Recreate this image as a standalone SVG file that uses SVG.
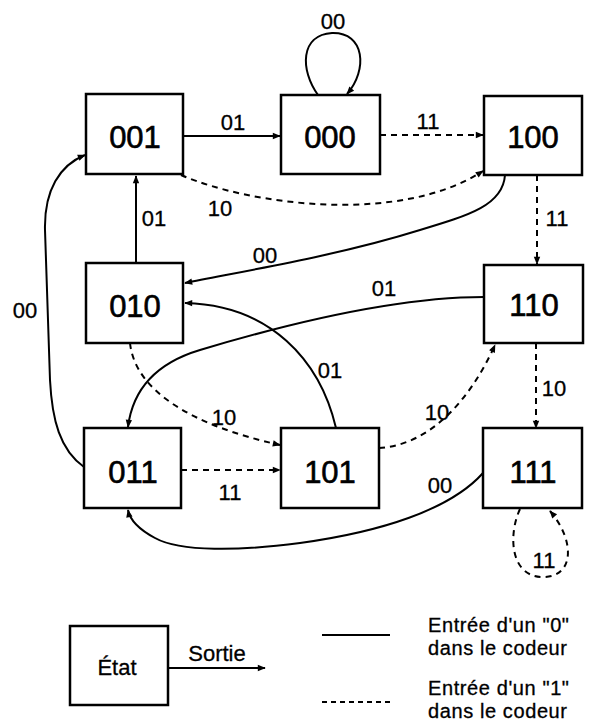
<svg xmlns="http://www.w3.org/2000/svg" width="591" height="723" viewBox="0 0 591 723">
<style>
.box{fill:#fff;stroke:#000;stroke-width:2.5}
.bl{font-family:"Liberation Sans",Arial,sans-serif;font-size:31px;text-anchor:middle;fill:#000;stroke:#000;stroke-width:0.6}
.el{font-family:"Liberation Sans",Arial,sans-serif;font-size:22px;text-anchor:middle;fill:#000;stroke:#000;stroke-width:0.3}
.lg{font-family:"Liberation Sans",Arial,sans-serif;font-size:20px;letter-spacing:0.6px;fill:#000;stroke:#000;stroke-width:0.3}
.s{fill:none;stroke:#000;stroke-width:2;marker-end:url(#ah)}
.d{fill:none;stroke:#000;stroke-width:2;stroke-dasharray:6 5;marker-end:url(#ah)}
</style>
<defs>
<marker id="ah" viewBox="0 0 10 10" refX="9" refY="5" markerWidth="9" markerHeight="8" orient="auto" markerUnits="userSpaceOnUse"><path d="M0,1 L10,5 L0,9 z" fill="#000"/></marker>
</defs>
<rect width="591" height="723" fill="#fff"/>
<g id="connectors">
<path class="s" d="M318,95 C300,70 300,35 332,33 C365,32 368,70 347,94"/>
<path class="s" d="M183,136 L280,136"/>
<path class="d" d="M380,135 L483,135"/>
<path class="d" d="M181,175 C250,205 400,225 483,171"/>
<path class="s" d="M136,263 L136,176"/>
<path class="s" d="M505,175 C503,205 470,215 420,230 C340,255 250,270 185,283"/>
<path class="d" d="M537,175 L537,264"/>
<path class="s" d="M484,297 C400,297 300,320 200,350 C150,365 132,395 128,427"/>
<path class="s" d="M336,428 C320,360 270,305 185,303"/>
<path class="d" d="M130,343 C135,390 190,425 280,445"/>
<path class="d" d="M379,448 C430,445 470,400 495,345"/>
<path class="d" d="M536,343 L536,428"/>
<path class="d" d="M181,470 L280,470"/>
<path class="s" d="M84,467 C60,450 52,420 50,380 L45,230 C44,190 60,165 85,155"/>
<path class="s" d="M483,473 C450,510 380,532 300,543 C240,551 180,552 155,538 C140,530 130,520 128,510"/>
<path class="d" d="M520,509 C508,535 510,577 543,577 C575,577 575,540 550,511"/>
</g>
<g id="edge-labels">
<text class="el" x="333" y="29">00</text>
<text class="el" x="233" y="130">01</text>
<text class="el" x="428" y="129">11</text>
<text class="el" x="220" y="216">10</text>
<text class="el" x="154" y="226">01</text>
<text class="el" x="557" y="226">11</text>
<text class="el" x="265" y="263">00</text>
<text class="el" x="384" y="296">01</text>
<text class="el" x="330" y="378">01</text>
<text class="el" x="224" y="425">10</text>
<text class="el" x="437" y="420">10</text>
<text class="el" x="554" y="396">10</text>
<text class="el" x="25" y="318">00</text>
<text class="el" x="230" y="500">11</text>
<text class="el" x="440" y="493">00</text>
<text class="el" x="544" y="568">11</text>
</g>
<g id="n001"><rect class="box" x="86" y="94" width="97" height="80"/><text class="bl" x="135" y="148">001</text></g>
<g id="n000"><rect class="box" x="281" y="95" width="99" height="79"/><text class="bl" x="330" y="148">000</text></g>
<g id="n100"><rect class="box" x="484" y="96" width="98" height="79"/><text class="bl" x="533" y="148">100</text></g>
<g id="n010"><rect class="box" x="86" y="263" width="97" height="80"/><text class="bl" x="135" y="317">010</text></g>
<g id="n110"><rect class="box" x="484" y="265" width="99" height="78"/><text class="bl" x="534" y="316">110</text></g>
<g id="n011"><rect class="box" x="84" y="428" width="97" height="80"/><text class="bl" x="133" y="483">011</text></g>
<g id="n101"><rect class="box" x="281" y="428" width="98" height="80"/><text class="bl" x="330" y="483">101</text></g>
<g id="n111"><rect class="box" x="483" y="428" width="99" height="80"/><text class="bl" x="533" y="483">111</text></g>
<g id="legend">
<rect class="box" x="70" y="626" width="98" height="79"/>
<text class="el" x="117" y="675">État</text>
<path class="s" d="M168,668 L265,668"/>
<text class="el" x="217" y="661">Sortie</text>
<path d="M322,635 L390,635" fill="none" stroke="#000" stroke-width="2"/>
<path d="M322,702 L390,702" fill="none" stroke="#000" stroke-width="2" stroke-dasharray="5 4"/>
<text class="lg" x="428" y="632">Entrée d'un "0"</text>
<text class="lg" x="428" y="655">dans le codeur</text>
<text class="lg" x="428" y="695">Entrée d'un "1"</text>
<text class="lg" x="428" y="718">dans le codeur</text>
</g>
</svg>
